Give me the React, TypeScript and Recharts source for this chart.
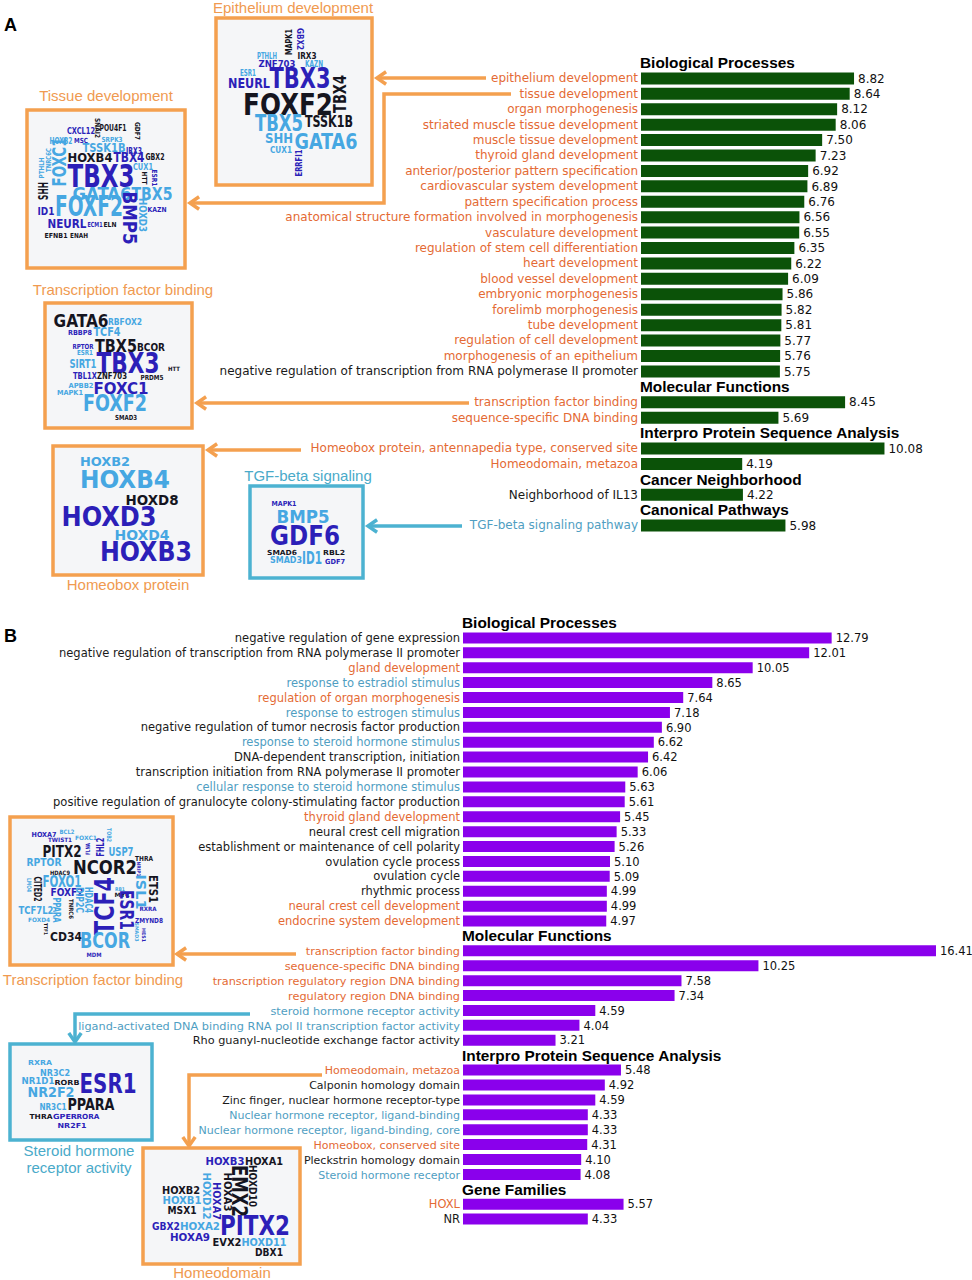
import React from 'react';
import { BarChart, Bar, XAxis, YAxis, LabelList } from 'recharts';

// ---------------- DATA: Panel A ----------------
const aBioTerms = [
  'epithelium development', 'tissue development', 'organ morphogenesis',
  'striated muscle tissue development', 'muscle tissue development', 'thyroid gland development',
  'anterior/posterior pattern specification', 'cardiovascular system development',
  'pattern specification process', 'anatomical structure formation involved in morphogenesis',
  'vasculature development', 'regulation of stem cell differentiation', 'heart development',
  'blood vessel development', 'embryonic morphogenesis', 'forelimb morphogenesis',
  'tube development', 'regulation of cell development', 'morphogenesis of an epithelium',
  'negative regulation of transcription from RNA polymerase II promoter',
];
const aBioValues = [8.82, 8.64, 8.12, 8.06, 7.5, 7.23, 6.92, 6.89, 6.76, 6.56, 6.55, 6.35, 6.22, 6.09, 5.86, 5.82, 5.81, 5.77, 5.76, 5.75];
const aBioLink = ['o','o','o','o','o','o','o','o','o','o','o','o','o','o','o','o','o','o','o','k'];

const aMolTerms = ['transcription factor binding', 'sequence-specific DNA binding'];
const aMolValues = [8.45, 5.69];
const aMolLink = ['o', 'o'];

const aIproTerms = ['Homeobox protein, antennapedia type, conserved site', 'Homeodomain, metazoa'];
const aIproValues = [10.08, 4.19];
const aIproLink = ['o', 'o'];

const aCancerTerms = ['Neighborhood of IL13'];
const aCancerValues = [4.22];
const aCancerLink = ['k'];

const aPathTerms = ['TGF-beta signaling pathway'];
const aPathValues = [5.98];
const aPathLink = ['b'];

// ---------------- DATA: Panel B ----------------
const bBioTerms = [
  'negative regulation of gene expression',
  'negative regulation of transcription from RNA polymerase II promoter',
  'gland development', 'response to estradiol stimulus', 'regulation of organ morphogenesis',
  'response to estrogen stimulus', 'negative regulation of tumor necrosis factor production',
  'response to steroid hormone stimulus', 'DNA-dependent transcription, initiation',
  'transcription initiation from RNA polymerase II promoter',
  'cellular response to steroid hormone stimulus',
  'positive regulation of granulocyte colony-stimulating factor production',
  'thyroid gland development', 'neural crest cell migration',
  'establishment or maintenance of cell polarity', 'ovulation cycle process', 'ovulation cycle',
  'rhythmic process', 'neural crest cell development', 'endocrine system development',
];
const bBioValues = [12.79, 12.01, 10.05, 8.65, 7.64, 7.18, 6.9, 6.62, 6.42, 6.06, 5.63, 5.61, 5.45, 5.33, 5.26, 5.1, 5.09, 4.99, 4.99, 4.97];
const bBioLink = ['k','k','o','b','o','b','k','b','k','k','b','k','o','k','k','k','k','k','o','o'];

const bMolTerms = [
  'transcription factor binding', 'sequence-specific DNA binding',
  'transcription regulatory region DNA binding', 'regulatory region DNA binding',
  'steroid hormone receptor activity',
  'ligand-activated DNA binding RNA pol II transcription factor activity',
  'Rho guanyl-nucleotide exchange factor activity',
];
const bMolValues = [16.41, 10.25, 7.58, 7.34, 4.59, 4.04, 3.21];
const bMolLink = ['o','o','o','o','b','b','k'];

const bIproTerms = [
  'Homeodomain, metazoa', 'Calponin homology domain', 'Zinc finger, nuclear hormone receptor-type',
  'Nuclear hormone receptor, ligand-binding', 'Nuclear hormone receptor, ligand-binding, core',
  'Homeobox, conserved site', 'Pleckstrin homology domain', 'Steroid hormone receptor',
];
const bIproValues = [5.48, 4.92, 4.59, 4.33, 4.33, 4.31, 4.1, 4.08];
const bIproLink = ['o','k','k','b','b','o','k','b'];

const bGeneTerms = ['HOXL', 'NR'];
const bGeneValues = [5.57, 4.33];
const bGeneLink = ['o', 'k'];

// ---------------- helpers ----------------
type Row = { name: string; value: number | null; header: boolean; link: string; section: string };

function buildRows(sections: [string, string[], number[], string[]][]): Row[] {
  const rows: Row[] = [];
  sections.forEach(([title, terms, values, link]) => {
    rows.push({ name: title, value: null, header: true, link: 'h', section: title });
    terms.forEach((t, i) => rows.push({ name: t, value: values[i], header: false, link: link[i], section: title }));
  });
  return rows;
}

const rowsA = buildRows([
  ['Biological Processes', aBioTerms, aBioValues, aBioLink],
  ['Molecular Functions', aMolTerms, aMolValues, aMolLink],
  ['Interpro Protein Sequence Analysis', aIproTerms, aIproValues, aIproLink],
  ['Cancer Neighborhood', aCancerTerms, aCancerValues, aCancerLink],
  ['Canonical Pathways', aPathTerms, aPathValues, aPathLink],
]);
const rowsB = buildRows([
  ['Biological Processes', bBioTerms, bBioValues, bBioLink],
  ['Molecular Functions', bMolTerms, bMolValues, bMolLink],
  ['Interpro Protein Sequence Analysis', bIproTerms, bIproValues, bIproLink],
  ['Gene Families', bGeneTerms, bGeneValues, bGeneLink],
]);

const LABEL_COLOR: Record<string, string> = { o: '#e46a34', b: '#4f9ec2', k: '#1a1a1a' };
const SANS = 'DejaVu Sans, Verdana, sans-serif';
const HEAD = 'Liberation Sans, Arial, sans-serif';

function makeTick(rows: Row[], plotLeft: number, fs: number, fsOverride: Record<string, number> = {}) {
  const map = new Map(rows.map((r) => [r.name, r]));
  return (props: any) => {
    const { y, payload } = props;
    const row = map.get(payload.value);
    if (!row) return null;
    if (row.header) {
      return (
        <text x={plotLeft - 1} y={y} dy={5.5} fontFamily={HEAD} fontWeight="bold" fontSize={15.4} fill="#000">
          {row.name}
        </text>
      );
    }
    const size = fsOverride[row.section] ?? fs;
    return (
      <text x={plotLeft - 3} y={y} dy={4.2} textAnchor="end" fontFamily={SANS} fontSize={size} fill={LABEL_COLOR[row.link]}>
        {row.name}
      </text>
    );
  };
}

function makeValueLabel(fs: number) {
  return (p: any) => {
    const { x, y, width, height, value } = p;
    if (value == null) return null;
    return (
      <text x={Number(x) + Number(width) + 4} y={Number(y) + Number(height) / 2} dy={4.2} fontFamily={SANS} fontSize={fs} fill="#111">
        {Number(value).toFixed(2)}
      </text>
    );
  };
}

// ---------------- word clouds (annotation graphics) ----------------
const CLOUD_COLOR: Record<string, string> = { k: '#15151f', i: '#2c1fb8', l: '#46a7e2' };
type W = [string, number, number, number, number, string, number];

const cloudEpi: W[] = [
  ['MAPK1', 289, 42, 26, 9, 'k', -90], ['GBX2', 300, 39, 22, 9, 'i', 90],
  ['PTHLH', 267, 56, 20, 8, 'l', 0], ['IRX3', 307, 56, 19, 8, 'k', 0],
  ['ZNF703', 277, 64, 37, 9, 'i', 0], ['KAZN', 314, 64, 18, 8, 'l', 0],
  ['ESR1', 248, 73, 16, 8, 'l', 0], ['NEURL', 249, 83, 42, 14, 'i', 0],
  ['TBX3', 300, 78, 61, 28, 'i', 0], ['TBX4', 340, 94, 38, 17, 'k', -90],
  ['FOXF2', 288, 104, 90, 30, 'k', 0], ['TBX5', 279, 123, 48, 23, 'l', 0],
  ['TSSK1B', 329, 122, 48, 15, 'k', 0], ['SHH', 279, 138, 28, 14, 'l', 0],
  ['GATA6', 326, 141, 63, 21, 'l', 0], ['CUX1', 281, 150, 22, 9, 'l', 0],
  ['ERRFI1', 299, 163, 27, 8, 'i', -90],
];
const cloudTissue: W[] = [
  ['CXCL12', 81, 131, 28, 8, 'i', 0], ['SNAI2', 97.5, 128, 20, 7, 'k', 90],
  ['POU4F1', 113, 128, 27, 8, 'k', 0], ['GDF7', 138, 131, 18, 7, 'k', 90],
  ['HOXB2', 61, 141, 23, 8, 'l', 0], ['MSC', 81, 140, 14, 7, 'i', 0],
  ['SRPK3', 112, 139, 21, 7, 'l', 0], ['TSSK1B', 104, 147, 43, 13, 'l', 0],
  ['IRX3', 134, 151, 16, 8, 'i', 0], ['PTHLH', 41, 168, 21, 7, 'l', -90],
  ['TNRC6C', 48, 160, 24, 7, 'l', -90], ['FOXC1', 59, 162, 49, 20, 'l', -90],
  ['HOXB4', 90, 157, 45, 13, 'k', 0], ['TBX4', 129, 157, 31, 14, 'i', 0],
  ['GBX2', 155, 157, 19, 8, 'k', 0], ['CUX1', 143, 167, 20, 8, 'l', 0],
  ['TBX3', 101, 175, 67, 32, 'i', 0], ['HTT', 145, 178, 13, 7, 'k', 90],
  ['ESR1', 155, 178, 17, 7, 'i', 90], ['SHH', 43, 191, 18, 14, 'k', -90],
  ['GATA6', 102, 194, 59, 18, 'l', 0], ['TBX5', 152, 194, 41, 18, 'l', 0],
  ['ID1', 46, 211, 17, 11, 'i', 0], ['FOXF2', 89, 206, 68, 29, 'l', 0],
  ['BMP5', 130, 218, 53, 20, 'i', 90], ['HOXD3', 143, 215, 34, 11, 'l', 90],
  ['KAZN', 157, 209, 19, 7, 'i', 0], ['NEURL', 67, 223, 39, 13, 'i', 0],
  ['ECM1', 95, 224, 15, 7, 'i', 0], ['ELN', 110, 224, 13, 7, 'k', 0],
  ['EFNB1', 56, 235, 23, 7, 'k', 0], ['ENAH', 79, 235, 18, 7, 'k', 0],
];
const cloudTfA: W[] = [
  ['GATA6', 81, 321, 55, 17, 'k', 0], ['RBFOX2', 125, 322, 34, 8, 'l', 0],
  ['RBBP8', 80, 332, 24, 7, 'i', 0], ['TCF4', 107, 332, 27, 12, 'l', 0],
  ['RPTOR', 83, 346, 21, 7, 'i', 0], ['ESR1', 85, 352, 16, 7, 'l', 0],
  ['TBX5', 116, 346, 42, 17, 'k', 0], ['BCOR', 151, 347, 28, 11, 'k', 0],
  ['SIRT1', 83, 363, 27, 13, 'l', 0], ['TBX3', 128, 363, 63, 29, 'i', 0],
  ['HTT', 174, 369, 12, 6, 'k', 0], ['TBL1X', 85, 376, 24, 8, 'i', 0],
  ['ZNF703', 112, 376, 30, 8, 'k', 0], ['PRDM5', 152, 377, 23, 7, 'k', 0],
  ['APBB2', 81, 385, 25, 7, 'l', 0], ['MAPK1', 70, 392, 26, 7, 'l', 0],
  ['FOXC1', 121, 388, 55, 16, 'i', 0], ['FOXF2', 115, 403, 64, 23, 'l', 0],
  ['SMAD3', 126, 417, 22, 7, 'k', 0],
];
const cloudHox: W[] = [
  ['HOXB2', 105, 462, 50, 12, 'l', 0], ['HOXB4', 125, 479, 90, 25, 'l', 0],
  ['HOXD8', 152, 500, 53, 14, 'k', 0], ['HOXD3', 109, 517, 95, 26, 'i', 0],
  ['HOXD4', 142, 535, 55, 14, 'l', 0], ['HOXB3', 146, 552, 92, 26, 'i', 0],
];
const cloudTgf: W[] = [
  ['MAPK1', 284, 503, 25, 7, 'i', 0], ['BMP5', 303, 517, 53, 18, 'l', 0],
  ['GDF6', 305, 535, 70, 27, 'i', 0], ['SMAD6', 282, 552, 30, 7, 'k', 0],
  ['RBL2', 334, 552, 22, 7, 'k', 0], ['SMAD3', 286, 560, 32, 8, 'l', 0],
  ['ID1', 312, 558, 20, 17, 'l', 0], ['GDF7', 335, 561, 20, 7, 'i', 0],
];
const cloudTfB: W[] = [
  ['HOXA7', 44, 834, 25, 7, 'i', 0], ['BCL2', 67, 832, 15, 6, 'l', 0],
  ['TWIST1', 60, 840, 24, 6, 'i', 0], ['FOXC1', 86, 838, 22, 6, 'l', 0],
  ['TOB2', 109, 835, 14, 6, 'l', 90], ['FHL2', 100, 847, 19, 11, 'i', -90],
  ['FLNA', 88, 849, 12, 6, 'i', -90], ['USP7', 121, 852, 25, 12, 'l', 0],
  ['PITX2', 62, 851, 39, 16, 'k', 0], ['THRA', 144, 858, 18, 7, 'k', 0],
  ['RPTOR', 44, 862, 35, 11, 'l', 0], ['NCOR2', 105, 867, 64, 20, 'k', 0],
  ['HDAC9', 60, 873, 20, 6, 'k', 0], ['NRIP1', 139, 869, 15, 5, 'i', 90],
  ['CITED2', 38, 889, 25, 11, 'k', 90], ['LMO4', 29, 885, 14, 6, 'l', 90],
  ['FOXO1', 62, 881, 39, 16, 'l', 0], ['TCF4', 104, 906, 58, 27, 'i', -90],
  ['RB1', 120, 889, 10, 5, 'l', 0], ['MYC', 122, 895, 15, 6, 'k', 0],
  ['ESR1', 127, 910, 40, 20, 'i', 90], ['ISL1', 141, 892, 35, 14, 'l', 90],
  ['ETS1', 153, 889, 28, 12, 'k', 90], ['FOXF2', 67, 892, 33, 11, 'i', 0],
  ['HDAC4', 89, 900, 26, 10, 'l', 90], ['DIP2C', 80, 900, 26, 10, 'l', 90],
  ['TNRC6', 71, 909, 20, 6, 'k', 90], ['PPARA', 57, 910, 25, 11, 'l', 90],
  ['TCF7L2', 36, 910, 35, 11, 'l', 0], ['FOXD4', 39, 920, 22, 6, 'l', 0],
  ['TTF1', 46, 929, 12, 5, 'k', 90], ['CD34', 66, 937, 32, 12, 'k', 0],
  ['BCOR', 105, 940, 50, 22, 'l', 0], ['RXRA', 148, 909, 17, 6, 'i', 0],
  ['ZMYND8', 149, 920, 28, 7, 'i', 0], ['SMAD3', 137, 932, 19, 5, 'l', 90],
  ['HES1', 144, 935, 14, 5, 'i', 90], ['MDM', 94, 955, 15, 6, 'i', 0],
];
const cloudSteroid: W[] = [
  ['RXRA', 40, 1062, 24, 7, 'l', 0], ['NR3C2', 55, 1073, 30, 8, 'l', 0],
  ['NR1D1', 38, 1081, 33, 8, 'l', 0], ['RORB', 67, 1082, 25, 7, 'k', 0],
  ['ESR1', 108, 1083, 57, 27, 'i', 0], ['NR2F2', 51, 1092, 47, 14, 'l', 0],
  ['NR3C1', 53, 1107, 27, 8, 'l', 0], ['PPARA', 91, 1105, 47, 15, 'k', 0],
  ['THRA', 41, 1116, 23, 7, 'k', 0], ['GPER', 65, 1116, 24, 7, 'i', 0],
  ['RORA', 88, 1116, 23, 7, 'i', 0], ['NR2F1', 72, 1125, 29, 7, 'i', 0],
];
const cloudHomeo: W[] = [
  ['HOXB3', 225, 1161, 39, 11, 'i', 0], ['HOXA1', 264, 1161, 38, 11, 'k', 0],
  ['EMX2', 240, 1191, 52, 22, 'k', 90], ['HOXD10', 253, 1186, 42, 11, 'k', 90],
  ['HOXA3', 228, 1192, 39, 10, 'k', 90], ['HOXA7', 217, 1201, 38, 10, 'i', 90],
  ['HOXD12', 207, 1196, 47, 10, 'l', 90], ['HOXB2', 181, 1190, 38, 10, 'k', 0],
  ['HOXB1', 182, 1200, 39, 10, 'l', 0], ['MSX1', 182, 1210, 29, 10, 'k', 0],
  ['GBX2', 166, 1226, 28, 10, 'i', 0], ['HOXA2', 200, 1226, 40, 10, 'l', 0],
  ['PITX2', 255, 1225, 70, 27, 'i', 0], ['HOXA9', 190, 1237, 40, 10, 'i', 0],
  ['EVX2', 227, 1242, 29, 10, 'k', 0], ['HOXD11', 264, 1242, 45, 10, 'l', 0],
  ['DBX1', 269, 1252, 28, 10, 'k', 0],
];

const ORANGE = '#f4a04f';
const BLUE = '#4cb2d1';
const TITLE_ORANGE = '#f09a50';
const TITLE_BLUE = '#4aaac9';

function Cloud({ words }: { words: W[] }) {
  return (
    <g>
      {words.map(([t, cx, cy, len, size, c, rot], i) => (
        <text
          key={i}
          x={cx}
          y={cy + size * 0.36}
          textAnchor="middle"
          fontFamily="DejaVu Sans Condensed, DejaVu Sans, sans-serif"
          fontWeight="bold"
          fontSize={size}
          fill={CLOUD_COLOR[c]}
          textLength={len}
          lengthAdjust="spacingAndGlyphs"
          transform={rot ? `rotate(${rot} ${cx} ${cy})` : undefined}
        >
          {t}
        </text>
      ))}
    </g>
  );
}

function Box({ x1, y1, x2, y2, color }: { x1: number; y1: number; x2: number; y2: number; color: string }) {
  return <rect x={x1} y={y1} width={x2 - x1} height={y2 - y1} fill="#f5f6f8" stroke={color} strokeWidth={3.5} />;
}

function Arrow({ pts, color }: { pts: number[][]; color: string }) {
  const n = pts.length;
  const [x2, y2] = pts[n - 1];
  const [x1, y1] = pts[n - 2];
  const ang = Math.atan2(y2 - y1, x2 - x1);
  const L = 11;
  const a1 = ang + Math.PI - 0.6;
  const a2 = ang + Math.PI + 0.6;
  const head = `${x2 + L * Math.cos(a1)},${y2 + L * Math.sin(a1)} ${x2},${y2} ${x2 + L * Math.cos(a2)},${y2 + L * Math.sin(a2)}`;
  return (
    <g fill="none" stroke={color} strokeWidth={3.5} strokeLinejoin="miter">
      <polyline points={pts.map((p) => p.join(',')).join(' ')} />
      <polyline points={head} />
    </g>
  );
}

function Title({ x, y, text, color }: { x: number; y: number; text: string; color: string }) {
  return (
    <text x={x} y={y} textAnchor="middle" fontFamily={HEAD} fontSize={15} fill={color}>
      {text}
    </text>
  );
}

export default function App() {
  const plotLeftA = 641;
  const plotLeftB = 463;
  return (
    <div style={{ position: 'absolute', left: 0, top: 0, width: 972, height: 1280, background: '#fff', overflow: 'hidden' }}>
      <div style={{ position: 'absolute', left: 0, top: 0 }}>
        <BarChart width={972} height={560} data={rowsA} layout="vertical" margin={{ top: 55, right: 17, bottom: 27, left: 0 }} barSize={12}>
          <XAxis type="number" hide domain={[0, 13]} />
          <YAxis type="category" dataKey="name" width={plotLeftA} axisLine={false} tickLine={false} interval={0} tick={makeTick(rowsA, plotLeftA, 12)} />
          <Bar dataKey="value" fill="#0b5208" isAnimationActive={false}>
            <LabelList dataKey="value" content={makeValueLabel(12)} />
          </Bar>
        </BarChart>
      </div>
      <div style={{ position: 'absolute', left: 0, top: 600 }}>
        <BarChart width={972} height={646} data={rowsB} layout="vertical" margin={{ top: 15.5, right: 19, bottom: 19.5, left: 0 }} barSize={11}>
          <XAxis type="number" hide domain={[0, 17]} />
          <YAxis
            type="category"
            dataKey="name"
            width={plotLeftB}
            axisLine={false}
            tickLine={false}
            interval={0}
            tick={makeTick(rowsB, plotLeftB, 11.5, { 'Interpro Protein Sequence Analysis': 11, 'Molecular Functions': 11.3 })}
          />
          <Bar dataKey="value" fill="#8a00ec" isAnimationActive={false}>
            <LabelList dataKey="value" content={makeValueLabel(11.5)} />
          </Bar>
        </BarChart>
      </div>
      <svg width={972} height={1280} style={{ position: 'absolute', left: 0, top: 0, pointerEvents: 'none' }}>
        <text x={4} y={31} fontFamily={HEAD} fontWeight="bold" fontSize={18} fill="#000">A</text>
        <text x={4} y={642} fontFamily={HEAD} fontWeight="bold" fontSize={18} fill="#000">B</text>

        {/* Panel A boxes */}
        <Title x={293} y={12.5} text="Epithelium development" color={TITLE_ORANGE} />
        <Box x1={216} y1={18} x2={372} y2={185} color={ORANGE} />
        <Cloud words={cloudEpi} />

        <Title x={106} y={101} text="Tissue development" color={TITLE_ORANGE} />
        <Box x1={27} y1={110} x2={185} y2={268} color={ORANGE} />
        <Cloud words={cloudTissue} />

        <Title x={123} y={295} text="Transcription factor binding" color={TITLE_ORANGE} />
        <Box x1={45} y1={303} x2={192} y2={428} color={ORANGE} />
        <Cloud words={cloudTfA} />

        <Box x1={53} y1={446} x2={203} y2={575} color={ORANGE} />
        <Cloud words={cloudHox} />
        <Title x={128} y={590} text="Homeobox protein" color={TITLE_ORANGE} />

        <Title x={308} y={481} text="TGF-beta signaling" color={TITLE_BLUE} />
        <Box x1={250} y1={486} x2={363} y2={578} color={BLUE} />
        <Cloud words={cloudTgf} />

        <Arrow pts={[[486, 78], [377, 78]]} color={ORANGE} />
        <Arrow pts={[[511, 94], [384, 94], [384, 203], [190, 203]]} color={ORANGE} />
        <Arrow pts={[[469, 403], [197, 403]]} color={ORANGE} />
        <Arrow pts={[[301, 450], [208, 450]]} color={ORANGE} />
        <Arrow pts={[[462, 526], [368, 526]]} color={BLUE} />

        {/* Panel B boxes */}
        <Box x1={10} y1={817} x2={173} y2={965} color={ORANGE} />
        <Cloud words={cloudTfB} />
        <Title x={93} y={985} text="Transcription factor binding" color={TITLE_ORANGE} />

        <Box x1={10} y1={1044} x2={152} y2={1140} color={BLUE} />
        <Cloud words={cloudSteroid} />
        <Title x={79} y={1156} text="Steroid hormone" color={TITLE_BLUE} />
        <Title x={79} y={1173} text="receptor activity" color={TITLE_BLUE} />

        <Box x1={143} y1={1148} x2={300} y2={1264} color={ORANGE} />
        <Cloud words={cloudHomeo} />
        <Title x={222} y={1278} text="Homeodomain" color={TITLE_ORANGE} />

        <Arrow pts={[[296, 954], [177, 954]]} color={ORANGE} />
        <Arrow pts={[[250, 1014], [75, 1014], [75, 1042]]} color={BLUE} />
        <Arrow pts={[[322, 1075], [189, 1075], [189, 1146]]} color={ORANGE} />
      </svg>
    </div>
  );
}
